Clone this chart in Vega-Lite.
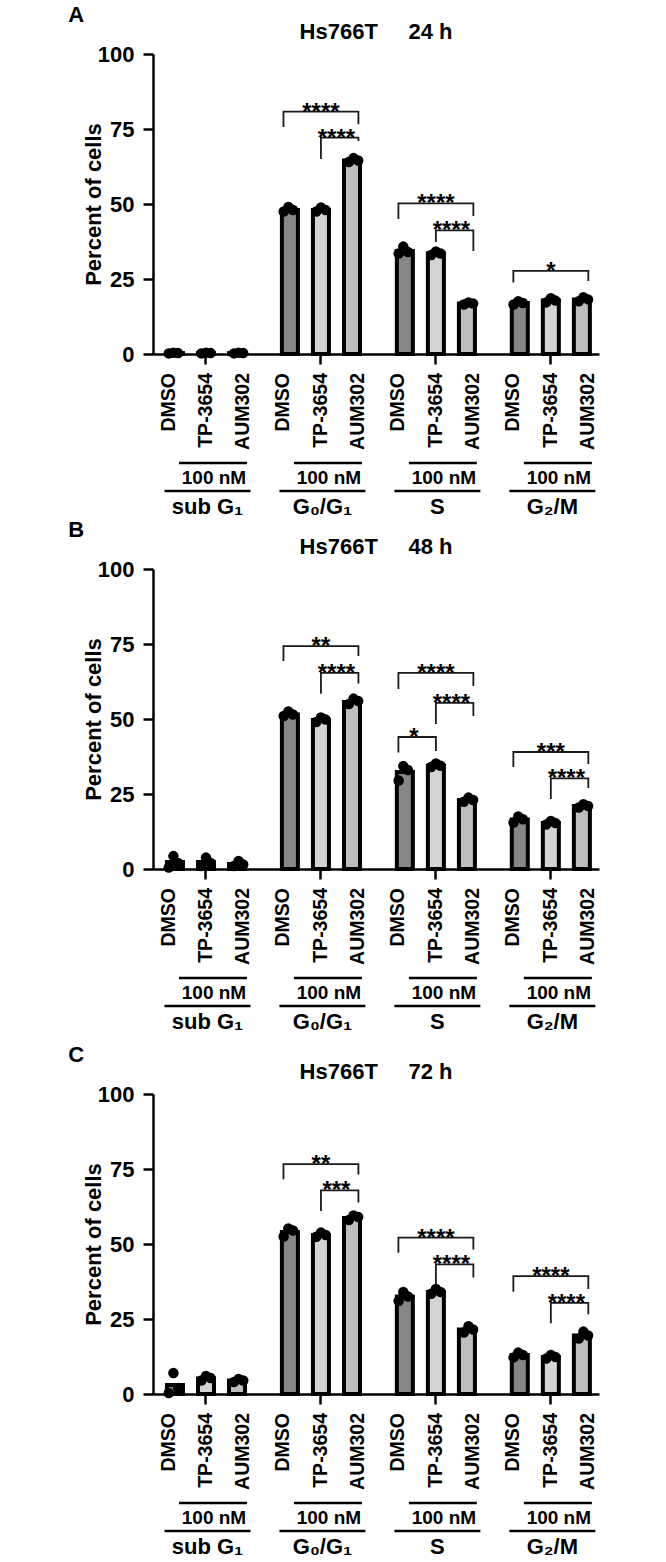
{
"$schema": "https://vega.github.io/schema/vega-lite/v6.json",
"padding": {"left": 68, "top": 4, "right": 5, "bottom": 0},
"spacing": 1,
"config": {
 "font": "Liberation Sans",
 "view": {"stroke": null},
 "axis": {"domainColor": "black", "tickColor": "black", "labelColor": "black", "titleColor": "black", "grid": false, "domainWidth": 2.5, "tickWidth": 2.5, "tickSize": 10, "labelFont": "Liberation Sans", "titleFont": "Liberation Sans"},
 "axisX": {"labels": false},
 "axisY": {"labelFontSize": 22, "labelFontWeight": "bold", "titleFontSize": 22, "titleFontWeight": "bold", "labelPadding": 9, "titlePadding": -8},
 "text": {"font": "Liberation Sans", "fontWeight": "bold", "color": "black"},
 "title": {"font": "Liberation Sans", "fontWeight": "bold", "color": "black"}
},
"datasets": {
 "phases": [
  {"phase": "sub G₁", "dose": "100 nM"},
  {"phase": "G₀/G₁", "dose": "100 nM"},
  {"phase": "S", "dose": "100 nM"},
  {"phase": "G₂/M", "dose": "100 nM"}
 ],
 "bars": [
  {"time": "24 h", "phase": "sub G₁", "treatment": "DMSO", "value": 0.3},
  {"time": "24 h", "phase": "sub G₁", "treatment": "TP-3654", "value": 0.3},
  {"time": "24 h", "phase": "sub G₁", "treatment": "AUM302", "value": 0.3},
  {"time": "24 h", "phase": "G₀/G₁", "treatment": "DMSO", "value": 48},
  {"time": "24 h", "phase": "G₀/G₁", "treatment": "TP-3654", "value": 48},
  {"time": "24 h", "phase": "G₀/G₁", "treatment": "AUM302", "value": 64.5},
  {"time": "24 h", "phase": "S", "treatment": "DMSO", "value": 34.3},
  {"time": "24 h", "phase": "S", "treatment": "TP-3654", "value": 33.6},
  {"time": "24 h", "phase": "S", "treatment": "AUM302", "value": 16.8},
  {"time": "24 h", "phase": "G₂/M", "treatment": "DMSO", "value": 17},
  {"time": "24 h", "phase": "G₂/M", "treatment": "TP-3654", "value": 17.8},
  {"time": "24 h", "phase": "G₂/M", "treatment": "AUM302", "value": 18.2},
  {"time": "48 h", "phase": "sub G₁", "treatment": "DMSO", "value": 2.3},
  {"time": "48 h", "phase": "sub G₁", "treatment": "TP-3654", "value": 2.3},
  {"time": "48 h", "phase": "sub G₁", "treatment": "AUM302", "value": 1.7},
  {"time": "48 h", "phase": "G₀/G₁", "treatment": "DMSO", "value": 51.5},
  {"time": "48 h", "phase": "G₀/G₁", "treatment": "TP-3654", "value": 49.7},
  {"time": "48 h", "phase": "G₀/G₁", "treatment": "AUM302", "value": 55.7},
  {"time": "48 h", "phase": "S", "treatment": "DMSO", "value": 32.3},
  {"time": "48 h", "phase": "S", "treatment": "TP-3654", "value": 34.4},
  {"time": "48 h", "phase": "S", "treatment": "AUM302", "value": 23},
  {"time": "48 h", "phase": "G₂/M", "treatment": "DMSO", "value": 16.5},
  {"time": "48 h", "phase": "G₂/M", "treatment": "TP-3654", "value": 15.3},
  {"time": "48 h", "phase": "G₂/M", "treatment": "AUM302", "value": 21},
  {"time": "72 h", "phase": "sub G₁", "treatment": "DMSO", "value": 3},
  {"time": "72 h", "phase": "sub G₁", "treatment": "TP-3654", "value": 5.2},
  {"time": "72 h", "phase": "sub G₁", "treatment": "AUM302", "value": 4.5},
  {"time": "72 h", "phase": "G₀/G₁", "treatment": "DMSO", "value": 54},
  {"time": "72 h", "phase": "G₀/G₁", "treatment": "TP-3654", "value": 53},
  {"time": "72 h", "phase": "G₀/G₁", "treatment": "AUM302", "value": 58.7},
  {"time": "72 h", "phase": "S", "treatment": "DMSO", "value": 32.5},
  {"time": "72 h", "phase": "S", "treatment": "TP-3654", "value": 34},
  {"time": "72 h", "phase": "S", "treatment": "AUM302", "value": 21.5},
  {"time": "72 h", "phase": "G₂/M", "treatment": "DMSO", "value": 13},
  {"time": "72 h", "phase": "G₂/M", "treatment": "TP-3654", "value": 12.3},
  {"time": "72 h", "phase": "G₂/M", "treatment": "AUM302", "value": 19.5}
 ],
 "reps": [
  {"time": "24 h", "phase": "sub G₁", "treatment": "DMSO", "rep": 1, "value": 0.2},
  {"time": "24 h", "phase": "sub G₁", "treatment": "DMSO", "rep": 3, "value": 0.3},
  {"time": "24 h", "phase": "sub G₁", "treatment": "DMSO", "rep": 2, "value": 0.4},
  {"time": "24 h", "phase": "sub G₁", "treatment": "TP-3654", "rep": 1, "value": 0.2},
  {"time": "24 h", "phase": "sub G₁", "treatment": "TP-3654", "rep": 3, "value": 0.3},
  {"time": "24 h", "phase": "sub G₁", "treatment": "TP-3654", "rep": 2, "value": 0.4},
  {"time": "24 h", "phase": "sub G₁", "treatment": "AUM302", "rep": 1, "value": 0.2},
  {"time": "24 h", "phase": "sub G₁", "treatment": "AUM302", "rep": 3, "value": 0.3},
  {"time": "24 h", "phase": "sub G₁", "treatment": "AUM302", "rep": 2, "value": 0.4},
  {"time": "24 h", "phase": "G₀/G₁", "treatment": "DMSO", "rep": 1, "value": 47.5},
  {"time": "24 h", "phase": "G₀/G₁", "treatment": "DMSO", "rep": 3, "value": 48},
  {"time": "24 h", "phase": "G₀/G₁", "treatment": "DMSO", "rep": 2, "value": 49},
  {"time": "24 h", "phase": "G₀/G₁", "treatment": "TP-3654", "rep": 1, "value": 47.5},
  {"time": "24 h", "phase": "G₀/G₁", "treatment": "TP-3654", "rep": 3, "value": 48},
  {"time": "24 h", "phase": "G₀/G₁", "treatment": "TP-3654", "rep": 2, "value": 48.8},
  {"time": "24 h", "phase": "G₀/G₁", "treatment": "AUM302", "rep": 1, "value": 64},
  {"time": "24 h", "phase": "G₀/G₁", "treatment": "AUM302", "rep": 3, "value": 64.5},
  {"time": "24 h", "phase": "G₀/G₁", "treatment": "AUM302", "rep": 2, "value": 65.3},
  {"time": "24 h", "phase": "S", "treatment": "DMSO", "rep": 1, "value": 33.5},
  {"time": "24 h", "phase": "S", "treatment": "DMSO", "rep": 3, "value": 34},
  {"time": "24 h", "phase": "S", "treatment": "DMSO", "rep": 2, "value": 35.8},
  {"time": "24 h", "phase": "S", "treatment": "TP-3654", "rep": 1, "value": 33},
  {"time": "24 h", "phase": "S", "treatment": "TP-3654", "rep": 3, "value": 33.5},
  {"time": "24 h", "phase": "S", "treatment": "TP-3654", "rep": 2, "value": 34.2},
  {"time": "24 h", "phase": "S", "treatment": "AUM302", "rep": 1, "value": 16.5},
  {"time": "24 h", "phase": "S", "treatment": "AUM302", "rep": 3, "value": 16.8},
  {"time": "24 h", "phase": "S", "treatment": "AUM302", "rep": 2, "value": 17.2},
  {"time": "24 h", "phase": "G₂/M", "treatment": "DMSO", "rep": 1, "value": 16.5},
  {"time": "24 h", "phase": "G₂/M", "treatment": "DMSO", "rep": 3, "value": 17},
  {"time": "24 h", "phase": "G₂/M", "treatment": "DMSO", "rep": 2, "value": 17.6},
  {"time": "24 h", "phase": "G₂/M", "treatment": "TP-3654", "rep": 1, "value": 17.2},
  {"time": "24 h", "phase": "G₂/M", "treatment": "TP-3654", "rep": 3, "value": 17.8},
  {"time": "24 h", "phase": "G₂/M", "treatment": "TP-3654", "rep": 2, "value": 18.6},
  {"time": "24 h", "phase": "G₂/M", "treatment": "AUM302", "rep": 1, "value": 17.6},
  {"time": "24 h", "phase": "G₂/M", "treatment": "AUM302", "rep": 3, "value": 18.2},
  {"time": "24 h", "phase": "G₂/M", "treatment": "AUM302", "rep": 2, "value": 18.9},
  {"time": "48 h", "phase": "sub G₁", "treatment": "DMSO", "rep": 1, "value": 0.5},
  {"time": "48 h", "phase": "sub G₁", "treatment": "DMSO", "rep": 3, "value": 2},
  {"time": "48 h", "phase": "sub G₁", "treatment": "DMSO", "rep": 2, "value": 4.3},
  {"time": "48 h", "phase": "sub G₁", "treatment": "TP-3654", "rep": 1, "value": 1},
  {"time": "48 h", "phase": "sub G₁", "treatment": "TP-3654", "rep": 3, "value": 2},
  {"time": "48 h", "phase": "sub G₁", "treatment": "TP-3654", "rep": 2, "value": 3.8},
  {"time": "48 h", "phase": "sub G₁", "treatment": "AUM302", "rep": 1, "value": 1},
  {"time": "48 h", "phase": "sub G₁", "treatment": "AUM302", "rep": 3, "value": 1.5},
  {"time": "48 h", "phase": "sub G₁", "treatment": "AUM302", "rep": 2, "value": 2.7},
  {"time": "48 h", "phase": "G₀/G₁", "treatment": "DMSO", "rep": 1, "value": 51},
  {"time": "48 h", "phase": "G₀/G₁", "treatment": "DMSO", "rep": 3, "value": 51.5},
  {"time": "48 h", "phase": "G₀/G₁", "treatment": "DMSO", "rep": 2, "value": 52.5},
  {"time": "48 h", "phase": "G₀/G₁", "treatment": "TP-3654", "rep": 1, "value": 49},
  {"time": "48 h", "phase": "G₀/G₁", "treatment": "TP-3654", "rep": 3, "value": 49.8},
  {"time": "48 h", "phase": "G₀/G₁", "treatment": "TP-3654", "rep": 2, "value": 50.5},
  {"time": "48 h", "phase": "G₀/G₁", "treatment": "AUM302", "rep": 1, "value": 55},
  {"time": "48 h", "phase": "G₀/G₁", "treatment": "AUM302", "rep": 3, "value": 56},
  {"time": "48 h", "phase": "G₀/G₁", "treatment": "AUM302", "rep": 2, "value": 56.8},
  {"time": "48 h", "phase": "S", "treatment": "DMSO", "rep": 1, "value": 29.5},
  {"time": "48 h", "phase": "S", "treatment": "DMSO", "rep": 3, "value": 33},
  {"time": "48 h", "phase": "S", "treatment": "DMSO", "rep": 2, "value": 34.3},
  {"time": "48 h", "phase": "S", "treatment": "TP-3654", "rep": 1, "value": 34},
  {"time": "48 h", "phase": "S", "treatment": "TP-3654", "rep": 3, "value": 34.4},
  {"time": "48 h", "phase": "S", "treatment": "TP-3654", "rep": 2, "value": 35.2},
  {"time": "48 h", "phase": "S", "treatment": "AUM302", "rep": 1, "value": 22.4},
  {"time": "48 h", "phase": "S", "treatment": "AUM302", "rep": 3, "value": 23},
  {"time": "48 h", "phase": "S", "treatment": "AUM302", "rep": 2, "value": 23.8},
  {"time": "48 h", "phase": "G₂/M", "treatment": "DMSO", "rep": 1, "value": 15.5},
  {"time": "48 h", "phase": "G₂/M", "treatment": "DMSO", "rep": 3, "value": 16.6},
  {"time": "48 h", "phase": "G₂/M", "treatment": "DMSO", "rep": 2, "value": 17.5},
  {"time": "48 h", "phase": "G₂/M", "treatment": "TP-3654", "rep": 1, "value": 14.8},
  {"time": "48 h", "phase": "G₂/M", "treatment": "TP-3654", "rep": 3, "value": 15.3},
  {"time": "48 h", "phase": "G₂/M", "treatment": "TP-3654", "rep": 2, "value": 16},
  {"time": "48 h", "phase": "G₂/M", "treatment": "AUM302", "rep": 1, "value": 20.5},
  {"time": "48 h", "phase": "G₂/M", "treatment": "AUM302", "rep": 3, "value": 21},
  {"time": "48 h", "phase": "G₂/M", "treatment": "AUM302", "rep": 2, "value": 21.6},
  {"time": "72 h", "phase": "sub G₁", "treatment": "DMSO", "rep": 1, "value": 0.3},
  {"time": "72 h", "phase": "sub G₁", "treatment": "DMSO", "rep": 3, "value": 2},
  {"time": "72 h", "phase": "sub G₁", "treatment": "DMSO", "rep": 2, "value": 7},
  {"time": "72 h", "phase": "sub G₁", "treatment": "TP-3654", "rep": 1, "value": 4.5},
  {"time": "72 h", "phase": "sub G₁", "treatment": "TP-3654", "rep": 3, "value": 5.3},
  {"time": "72 h", "phase": "sub G₁", "treatment": "TP-3654", "rep": 2, "value": 6},
  {"time": "72 h", "phase": "sub G₁", "treatment": "AUM302", "rep": 1, "value": 4},
  {"time": "72 h", "phase": "sub G₁", "treatment": "AUM302", "rep": 3, "value": 4.5},
  {"time": "72 h", "phase": "sub G₁", "treatment": "AUM302", "rep": 2, "value": 5},
  {"time": "72 h", "phase": "G₀/G₁", "treatment": "DMSO", "rep": 1, "value": 52.5},
  {"time": "72 h", "phase": "G₀/G₁", "treatment": "DMSO", "rep": 3, "value": 54.5},
  {"time": "72 h", "phase": "G₀/G₁", "treatment": "DMSO", "rep": 2, "value": 55.2},
  {"time": "72 h", "phase": "G₀/G₁", "treatment": "TP-3654", "rep": 1, "value": 52.4},
  {"time": "72 h", "phase": "G₀/G₁", "treatment": "TP-3654", "rep": 3, "value": 53},
  {"time": "72 h", "phase": "G₀/G₁", "treatment": "TP-3654", "rep": 2, "value": 53.8},
  {"time": "72 h", "phase": "G₀/G₁", "treatment": "AUM302", "rep": 1, "value": 58},
  {"time": "72 h", "phase": "G₀/G₁", "treatment": "AUM302", "rep": 3, "value": 59},
  {"time": "72 h", "phase": "G₀/G₁", "treatment": "AUM302", "rep": 2, "value": 59.5},
  {"time": "72 h", "phase": "S", "treatment": "DMSO", "rep": 1, "value": 31},
  {"time": "72 h", "phase": "S", "treatment": "DMSO", "rep": 3, "value": 32.5},
  {"time": "72 h", "phase": "S", "treatment": "DMSO", "rep": 2, "value": 34},
  {"time": "72 h", "phase": "S", "treatment": "TP-3654", "rep": 1, "value": 33.4},
  {"time": "72 h", "phase": "S", "treatment": "TP-3654", "rep": 3, "value": 34},
  {"time": "72 h", "phase": "S", "treatment": "TP-3654", "rep": 2, "value": 35},
  {"time": "72 h", "phase": "S", "treatment": "AUM302", "rep": 1, "value": 20.5},
  {"time": "72 h", "phase": "S", "treatment": "AUM302", "rep": 3, "value": 21.5},
  {"time": "72 h", "phase": "S", "treatment": "AUM302", "rep": 2, "value": 22.6},
  {"time": "72 h", "phase": "G₂/M", "treatment": "DMSO", "rep": 1, "value": 12.2},
  {"time": "72 h", "phase": "G₂/M", "treatment": "DMSO", "rep": 3, "value": 13},
  {"time": "72 h", "phase": "G₂/M", "treatment": "DMSO", "rep": 2, "value": 13.8},
  {"time": "72 h", "phase": "G₂/M", "treatment": "TP-3654", "rep": 1, "value": 11.8},
  {"time": "72 h", "phase": "G₂/M", "treatment": "TP-3654", "rep": 3, "value": 12.3},
  {"time": "72 h", "phase": "G₂/M", "treatment": "TP-3654", "rep": 2, "value": 13},
  {"time": "72 h", "phase": "G₂/M", "treatment": "AUM302", "rep": 1, "value": 18.5},
  {"time": "72 h", "phase": "G₂/M", "treatment": "AUM302", "rep": 3, "value": 19.5},
  {"time": "72 h", "phase": "G₂/M", "treatment": "AUM302", "rep": 2, "value": 20.8}
 ],
 "brackets": [
  {"time": "24 h", "id": "b1", "phase": "G₀/G₁", "treatment": "DMSO", "value": 75.7, "k": 1},
  {"time": "24 h", "id": "b1", "phase": "G₀/G₁", "treatment": "DMSO", "value": 80.8, "k": 2},
  {"time": "24 h", "id": "b1", "phase": "G₀/G₁", "treatment": "AUM302", "value": 80.8, "k": 3},
  {"time": "24 h", "id": "b1", "phase": "G₀/G₁", "treatment": "AUM302", "value": 76.6, "k": 4},
  {"time": "24 h", "id": "b2", "phase": "G₀/G₁", "treatment": "TP-3654", "value": 65, "k": 1},
  {"time": "24 h", "id": "b2", "phase": "G₀/G₁", "treatment": "TP-3654", "value": 72.1, "k": 2},
  {"time": "24 h", "id": "b2", "phase": "G₀/G₁", "treatment": "AUM302", "value": 72.1, "k": 3},
  {"time": "24 h", "id": "b2", "phase": "G₀/G₁", "treatment": "AUM302", "value": 71, "k": 4},
  {"time": "24 h", "id": "b3", "phase": "S", "treatment": "DMSO", "value": 45, "k": 1},
  {"time": "24 h", "id": "b3", "phase": "S", "treatment": "DMSO", "value": 50.2, "k": 2},
  {"time": "24 h", "id": "b3", "phase": "S", "treatment": "AUM302", "value": 50.2, "k": 3},
  {"time": "24 h", "id": "b3", "phase": "S", "treatment": "AUM302", "value": 46, "k": 4},
  {"time": "24 h", "id": "b4", "phase": "S", "treatment": "TP-3654", "value": 37.3, "k": 1},
  {"time": "24 h", "id": "b4", "phase": "S", "treatment": "TP-3654", "value": 41.2, "k": 2},
  {"time": "24 h", "id": "b4", "phase": "S", "treatment": "AUM302", "value": 41.2, "k": 3},
  {"time": "24 h", "id": "b4", "phase": "S", "treatment": "AUM302", "value": 34.3, "k": 4},
  {"time": "24 h", "id": "b5", "phase": "G₂/M", "treatment": "DMSO", "value": 23.8, "k": 1},
  {"time": "24 h", "id": "b5", "phase": "G₂/M", "treatment": "DMSO", "value": 27.7, "k": 2},
  {"time": "24 h", "id": "b5", "phase": "G₂/M", "treatment": "AUM302", "value": 27.7, "k": 3},
  {"time": "24 h", "id": "b5", "phase": "G₂/M", "treatment": "AUM302", "value": 24.3, "k": 4},
  {"time": "48 h", "id": "b6", "phase": "G₀/G₁", "treatment": "DMSO", "value": 69.3, "k": 1},
  {"time": "48 h", "id": "b6", "phase": "G₀/G₁", "treatment": "DMSO", "value": 74.3, "k": 2},
  {"time": "48 h", "id": "b6", "phase": "G₀/G₁", "treatment": "AUM302", "value": 74.3, "k": 3},
  {"time": "48 h", "id": "b6", "phase": "G₀/G₁", "treatment": "AUM302", "value": 71, "k": 4},
  {"time": "48 h", "id": "b7", "phase": "G₀/G₁", "treatment": "TP-3654", "value": 58.4, "k": 1},
  {"time": "48 h", "id": "b7", "phase": "G₀/G₁", "treatment": "TP-3654", "value": 65.4, "k": 2},
  {"time": "48 h", "id": "b7", "phase": "G₀/G₁", "treatment": "AUM302", "value": 65.4, "k": 3},
  {"time": "48 h", "id": "b7", "phase": "G₀/G₁", "treatment": "AUM302", "value": 61.8, "k": 4},
  {"time": "48 h", "id": "b8", "phase": "S", "treatment": "DMSO", "value": 60, "k": 1},
  {"time": "48 h", "id": "b8", "phase": "S", "treatment": "DMSO", "value": 65.4, "k": 2},
  {"time": "48 h", "id": "b8", "phase": "S", "treatment": "AUM302", "value": 65.4, "k": 3},
  {"time": "48 h", "id": "b8", "phase": "S", "treatment": "AUM302", "value": 61, "k": 4},
  {"time": "48 h", "id": "b9", "phase": "S", "treatment": "TP-3654", "value": 48.3, "k": 1},
  {"time": "48 h", "id": "b9", "phase": "S", "treatment": "TP-3654", "value": 55.4, "k": 2},
  {"time": "48 h", "id": "b9", "phase": "S", "treatment": "AUM302", "value": 55.4, "k": 3},
  {"time": "48 h", "id": "b9", "phase": "S", "treatment": "AUM302", "value": 51, "k": 4},
  {"time": "48 h", "id": "b10", "phase": "S", "treatment": "DMSO", "value": 38.8, "k": 1},
  {"time": "48 h", "id": "b10", "phase": "S", "treatment": "DMSO", "value": 44, "k": 2},
  {"time": "48 h", "id": "b10", "phase": "S", "treatment": "TP-3654", "value": 44, "k": 3},
  {"time": "48 h", "id": "b10", "phase": "S", "treatment": "TP-3654", "value": 39.3, "k": 4},
  {"time": "48 h", "id": "b11", "phase": "G₂/M", "treatment": "DMSO", "value": 34, "k": 1},
  {"time": "48 h", "id": "b11", "phase": "G₂/M", "treatment": "DMSO", "value": 39, "k": 2},
  {"time": "48 h", "id": "b11", "phase": "G₂/M", "treatment": "AUM302", "value": 39, "k": 3},
  {"time": "48 h", "id": "b11", "phase": "G₂/M", "treatment": "AUM302", "value": 35, "k": 4},
  {"time": "48 h", "id": "b12", "phase": "G₂/M", "treatment": "TP-3654", "value": 23.3, "k": 1},
  {"time": "48 h", "id": "b12", "phase": "G₂/M", "treatment": "TP-3654", "value": 30.2, "k": 2},
  {"time": "48 h", "id": "b12", "phase": "G₂/M", "treatment": "AUM302", "value": 30.2, "k": 3},
  {"time": "48 h", "id": "b12", "phase": "G₂/M", "treatment": "AUM302", "value": 27, "k": 4},
  {"time": "72 h", "id": "b13", "phase": "G₀/G₁", "treatment": "DMSO", "value": 71.6, "k": 1},
  {"time": "72 h", "id": "b13", "phase": "G₀/G₁", "treatment": "DMSO", "value": 76.6, "k": 2},
  {"time": "72 h", "id": "b13", "phase": "G₀/G₁", "treatment": "AUM302", "value": 76.6, "k": 3},
  {"time": "72 h", "id": "b13", "phase": "G₀/G₁", "treatment": "AUM302", "value": 73.2, "k": 4},
  {"time": "72 h", "id": "b14", "phase": "G₀/G₁", "treatment": "TP-3654", "value": 61, "k": 1},
  {"time": "72 h", "id": "b14", "phase": "G₀/G₁", "treatment": "TP-3654", "value": 67.9, "k": 2},
  {"time": "72 h", "id": "b14", "phase": "G₀/G₁", "treatment": "AUM302", "value": 67.9, "k": 3},
  {"time": "72 h", "id": "b14", "phase": "G₀/G₁", "treatment": "AUM302", "value": 63.8, "k": 4},
  {"time": "72 h", "id": "b15", "phase": "S", "treatment": "DMSO", "value": 47.1, "k": 1},
  {"time": "72 h", "id": "b15", "phase": "S", "treatment": "DMSO", "value": 52.1, "k": 2},
  {"time": "72 h", "id": "b15", "phase": "S", "treatment": "AUM302", "value": 52.1, "k": 3},
  {"time": "72 h", "id": "b15", "phase": "S", "treatment": "AUM302", "value": 48.2, "k": 4},
  {"time": "72 h", "id": "b16", "phase": "S", "treatment": "TP-3654", "value": 36.6, "k": 1},
  {"time": "72 h", "id": "b16", "phase": "S", "treatment": "TP-3654", "value": 43.2, "k": 2},
  {"time": "72 h", "id": "b16", "phase": "S", "treatment": "AUM302", "value": 43.2, "k": 3},
  {"time": "72 h", "id": "b16", "phase": "S", "treatment": "AUM302", "value": 38.8, "k": 4},
  {"time": "72 h", "id": "b17", "phase": "G₂/M", "treatment": "DMSO", "value": 34.1, "k": 1},
  {"time": "72 h", "id": "b17", "phase": "G₂/M", "treatment": "DMSO", "value": 39.3, "k": 2},
  {"time": "72 h", "id": "b17", "phase": "G₂/M", "treatment": "AUM302", "value": 39.3, "k": 3},
  {"time": "72 h", "id": "b17", "phase": "G₂/M", "treatment": "AUM302", "value": 35, "k": 4},
  {"time": "72 h", "id": "b18", "phase": "G₂/M", "treatment": "TP-3654", "value": 23.6, "k": 1},
  {"time": "72 h", "id": "b18", "phase": "G₂/M", "treatment": "TP-3654", "value": 30.4, "k": 2},
  {"time": "72 h", "id": "b18", "phase": "G₂/M", "treatment": "AUM302", "value": 30.4, "k": 3},
  {"time": "72 h", "id": "b18", "phase": "G₂/M", "treatment": "AUM302", "value": 26.6, "k": 4}
 ],
 "stars": [
  {"time": "24 h", "phase": "G₀/G₁", "treatment": "TP-3654", "span": 2, "value": 80.8, "stars": "****"},
  {"time": "24 h", "phase": "G₀/G₁", "treatment": "TP-3654", "span": 1, "value": 72.1, "stars": "****"},
  {"time": "24 h", "phase": "S", "treatment": "TP-3654", "span": 2, "value": 50.2, "stars": "****"},
  {"time": "24 h", "phase": "S", "treatment": "TP-3654", "span": 1, "value": 41.2, "stars": "****"},
  {"time": "24 h", "phase": "G₂/M", "treatment": "TP-3654", "span": 2, "value": 27.7, "stars": "*"},
  {"time": "48 h", "phase": "G₀/G₁", "treatment": "TP-3654", "span": 2, "value": 74.3, "stars": "**"},
  {"time": "48 h", "phase": "G₀/G₁", "treatment": "TP-3654", "span": 1, "value": 65.4, "stars": "****"},
  {"time": "48 h", "phase": "S", "treatment": "TP-3654", "span": 2, "value": 65.4, "stars": "****"},
  {"time": "48 h", "phase": "S", "treatment": "TP-3654", "span": 1, "value": 55.4, "stars": "****"},
  {"time": "48 h", "phase": "S", "treatment": "DMSO", "span": 1, "value": 44, "stars": "*"},
  {"time": "48 h", "phase": "G₂/M", "treatment": "TP-3654", "span": 2, "value": 39, "stars": "***"},
  {"time": "48 h", "phase": "G₂/M", "treatment": "TP-3654", "span": 1, "value": 30.2, "stars": "****"},
  {"time": "72 h", "phase": "G₀/G₁", "treatment": "TP-3654", "span": 2, "value": 76.6, "stars": "**"},
  {"time": "72 h", "phase": "G₀/G₁", "treatment": "TP-3654", "span": 1, "value": 67.9, "stars": "***"},
  {"time": "72 h", "phase": "S", "treatment": "TP-3654", "span": 2, "value": 52.1, "stars": "****"},
  {"time": "72 h", "phase": "S", "treatment": "TP-3654", "span": 1, "value": 43.2, "stars": "****"},
  {"time": "72 h", "phase": "G₂/M", "treatment": "TP-3654", "span": 2, "value": 39.3, "stars": "****"},
  {"time": "72 h", "phase": "G₂/M", "treatment": "TP-3654", "span": 1, "value": 30.4, "stars": "****"}
 ]
},
"vconcat": [
 {
  "title": {"text": "A", "anchor": "start", "frame": "bounds", "fontSize": 22, "dx": -14, "offset": -23, "baseline": "alphabetic"},
  "vconcat": [{
   "title": {"text": "Hs766T\u00a0\u00a0\u00a0\u00a0\u00a024 h", "anchor": "middle", "frame": "group", "fontSize": 22, "offset": -18, "baseline": "alphabetic"},
   "width": 446, "height": 300,
   "resolve": {"scale": {"xOffset": "independent"}},
   "layer": [
    {"data": {"name": "bars"}, "transform": [{"filter": "datum.time == '24 h'"}],
     "mark": {"type": "bar", "stroke": "black", "strokeWidth": 4},
     "encoding": {
      "x": {"field": "phase", "type": "nominal", "title": null, "sort": ["sub G₁", "G₀/G₁", "S", "G₂/M"], "scale": {"domain": ["sub G₁", "G₀/G₁", "S", "G₂/M"], "paddingInner": 0.19, "paddingOuter": 0.035, "align": 0.8}},
      "xOffset": {"field": "treatment", "type": "nominal", "scale": {"domain": ["DMSO", "TP-3654", "AUM302"], "paddingInner": 0.484, "paddingOuter": 0.242}},
      "y": {"field": "value", "type": "quantitative", "title": "Percent of cells", "scale": {"domain": [0, 100]}, "axis": {"values": [0, 25, 50, 75, 100]}},
      "fill": {"field": "treatment", "type": "nominal", "scale": {"domain": ["DMSO", "TP-3654", "AUM302"], "range": ["#878787", "#d4d4d4", "#bebebe"]}, "legend": null}
     }},
    {"data": {"name": "reps"}, "transform": [{"filter": "datum.time == '24 h'"}, {"calculate": "datum.treatment + ' ' + datum.rep", "as": "slot"}],
     "mark": {"type": "point", "filled": true, "fill": "black", "size": 110, "opacity": 1},
     "encoding": {"x": {"field": "phase", "type": "nominal", "title": null}, "xOffset": {"field": "slot", "type": "nominal", "scale": {"domain": ["DMSO a", "DMSO b", "DMSO 1", "DMSO 2", "DMSO 3", "DMSO c", "DMSO d", "TP-3654 a", "TP-3654 b", "TP-3654 1", "TP-3654 2", "TP-3654 3", "TP-3654 c", "TP-3654 d", "AUM302 a", "AUM302 b", "AUM302 1", "AUM302 2", "AUM302 3", "AUM302 c", "AUM302 d"], "paddingInner": 0, "paddingOuter": 0}}, "y": {"field": "value", "type": "quantitative", "title": "Percent of cells"}}},
    {"data": {"name": "brackets"}, "transform": [{"filter": "datum.time == '24 h'"}],
     "mark": {"type": "line", "stroke": "#1a1a1a", "strokeWidth": 1.8},
     "encoding": {"x": {"field": "phase", "type": "nominal", "title": null}, "xOffset": {"field": "treatment", "type": "nominal", "scale": {"domain": ["DMSO", "TP-3654", "AUM302"], "paddingInner": 0.484, "paddingOuter": 0.242}}, "y": {"field": "value", "type": "quantitative", "title": "Percent of cells"}, "detail": {"field": "id", "type": "nominal"}, "order": {"field": "k", "type": "quantitative"}}},
    {"data": {"name": "stars"}, "transform": [{"filter": "datum.time == '24 h' && datum.span == 2"}],
     "mark": {"type": "text", "fontSize": 24, "baseline": "alphabetic", "dy": 8},
     "encoding": {"x": {"field": "phase", "type": "nominal", "title": null}, "xOffset": {"field": "treatment", "type": "nominal", "scale": {"domain": ["DMSO", "TP-3654", "AUM302"], "paddingInner": 0.484, "paddingOuter": 0.242}}, "y": {"field": "value", "type": "quantitative", "title": "Percent of cells"}, "text": {"field": "stars"}}},
    {"data": {"name": "stars"}, "transform": [{"filter": "datum.time == '24 h' && datum.span == 1"}],
     "mark": {"type": "text", "fontSize": 24, "baseline": "alphabetic", "dy": 8, "dx": 15.5},
     "encoding": {"x": {"field": "phase", "type": "nominal", "title": null}, "xOffset": {"field": "treatment", "type": "nominal", "scale": {"domain": ["DMSO", "TP-3654", "AUM302"], "paddingInner": 0.484, "paddingOuter": 0.242}}, "y": {"field": "value", "type": "quantitative", "title": "Percent of cells"}, "text": {"field": "stars"}}},
    {"data": {"name": "bars"}, "transform": [{"filter": "datum.time == '24 h'"}],
     "mark": {"type": "text", "angle": 270, "align": "right", "baseline": "middle", "fontSize": 19.5},
     "encoding": {"x": {"field": "phase", "type": "nominal", "title": null}, "xOffset": {"field": "treatment", "type": "nominal", "scale": {"domain": ["DMSO", "TP-3654", "AUM302"], "paddingInner": 0.484, "paddingOuter": 0.242}}, "y": {"datum": -6.33, "type": "quantitative", "title": "Percent of cells"}, "text": {"field": "treatment"}}},
    {"data": {"name": "phases"},
     "mark": {"type": "tick", "orient": "horizontal", "size": 68, "thickness": 2.5, "xOffset": 7, "color": "black", "opacity": 1},
     "encoding": {"x": {"field": "phase", "type": "nominal", "title": null}, "y": {"datum": -36.3, "type": "quantitative", "title": "Percent of cells"}}},
    {"data": {"name": "phases"},
     "mark": {"type": "text", "fontSize": 19, "baseline": "alphabetic", "dx": 8},
     "encoding": {"x": {"field": "phase", "type": "nominal", "title": null}, "y": {"datum": -43.3, "type": "quantitative", "title": "Percent of cells"}, "text": {"field": "dose"}}},
    {"data": {"name": "phases"},
     "mark": {"type": "tick", "orient": "horizontal", "size": 86, "thickness": 2.5, "xOffset": 1.5, "color": "black", "opacity": 1},
     "encoding": {"x": {"field": "phase", "type": "nominal", "title": null}, "y": {"datum": -45.7, "type": "quantitative", "title": "Percent of cells"}}},
    {"data": {"name": "phases"},
     "mark": {"type": "text", "fontSize": 22, "baseline": "alphabetic", "dx": 1.5},
     "encoding": {"x": {"field": "phase", "type": "nominal", "title": null}, "y": {"datum": -53.3, "type": "quantitative", "title": "Percent of cells"}, "text": {"field": "phase"}}}
   ]
  }]
 },
 {
  "spacing": 11,
  "vconcat": [
 {
  "title": {"text": "B", "anchor": "start", "frame": "bounds", "fontSize": 22, "dx": -14, "offset": -23, "baseline": "alphabetic"},
  "vconcat": [{
   "title": {"text": "Hs766T\u00a0\u00a0\u00a0\u00a0\u00a048 h", "anchor": "middle", "frame": "group", "fontSize": 22, "offset": -18, "baseline": "alphabetic"},
   "width": 446, "height": 300,
   "resolve": {"scale": {"xOffset": "independent"}},
   "layer": [
    {"data": {"name": "bars"}, "transform": [{"filter": "datum.time == '48 h'"}],
     "mark": {"type": "bar", "stroke": "black", "strokeWidth": 4},
     "encoding": {
      "x": {"field": "phase", "type": "nominal", "title": null, "sort": ["sub G₁", "G₀/G₁", "S", "G₂/M"], "scale": {"domain": ["sub G₁", "G₀/G₁", "S", "G₂/M"], "paddingInner": 0.19, "paddingOuter": 0.035, "align": 0.8}},
      "xOffset": {"field": "treatment", "type": "nominal", "scale": {"domain": ["DMSO", "TP-3654", "AUM302"], "paddingInner": 0.484, "paddingOuter": 0.242}},
      "y": {"field": "value", "type": "quantitative", "title": "Percent of cells", "scale": {"domain": [0, 100]}, "axis": {"values": [0, 25, 50, 75, 100]}},
      "fill": {"field": "treatment", "type": "nominal", "scale": {"domain": ["DMSO", "TP-3654", "AUM302"], "range": ["#878787", "#d4d4d4", "#bebebe"]}, "legend": null}
     }},
    {"data": {"name": "reps"}, "transform": [{"filter": "datum.time == '48 h'"}, {"calculate": "datum.treatment + ' ' + datum.rep", "as": "slot"}],
     "mark": {"type": "point", "filled": true, "fill": "black", "size": 110, "opacity": 1},
     "encoding": {"x": {"field": "phase", "type": "nominal", "title": null}, "xOffset": {"field": "slot", "type": "nominal", "scale": {"domain": ["DMSO a", "DMSO b", "DMSO 1", "DMSO 2", "DMSO 3", "DMSO c", "DMSO d", "TP-3654 a", "TP-3654 b", "TP-3654 1", "TP-3654 2", "TP-3654 3", "TP-3654 c", "TP-3654 d", "AUM302 a", "AUM302 b", "AUM302 1", "AUM302 2", "AUM302 3", "AUM302 c", "AUM302 d"], "paddingInner": 0, "paddingOuter": 0}}, "y": {"field": "value", "type": "quantitative", "title": "Percent of cells"}}},
    {"data": {"name": "brackets"}, "transform": [{"filter": "datum.time == '48 h'"}],
     "mark": {"type": "line", "stroke": "#1a1a1a", "strokeWidth": 1.8},
     "encoding": {"x": {"field": "phase", "type": "nominal", "title": null}, "xOffset": {"field": "treatment", "type": "nominal", "scale": {"domain": ["DMSO", "TP-3654", "AUM302"], "paddingInner": 0.484, "paddingOuter": 0.242}}, "y": {"field": "value", "type": "quantitative", "title": "Percent of cells"}, "detail": {"field": "id", "type": "nominal"}, "order": {"field": "k", "type": "quantitative"}}},
    {"data": {"name": "stars"}, "transform": [{"filter": "datum.time == '48 h' && datum.span == 2"}],
     "mark": {"type": "text", "fontSize": 24, "baseline": "alphabetic", "dy": 8},
     "encoding": {"x": {"field": "phase", "type": "nominal", "title": null}, "xOffset": {"field": "treatment", "type": "nominal", "scale": {"domain": ["DMSO", "TP-3654", "AUM302"], "paddingInner": 0.484, "paddingOuter": 0.242}}, "y": {"field": "value", "type": "quantitative", "title": "Percent of cells"}, "text": {"field": "stars"}}},
    {"data": {"name": "stars"}, "transform": [{"filter": "datum.time == '48 h' && datum.span == 1"}],
     "mark": {"type": "text", "fontSize": 24, "baseline": "alphabetic", "dy": 8, "dx": 15.5},
     "encoding": {"x": {"field": "phase", "type": "nominal", "title": null}, "xOffset": {"field": "treatment", "type": "nominal", "scale": {"domain": ["DMSO", "TP-3654", "AUM302"], "paddingInner": 0.484, "paddingOuter": 0.242}}, "y": {"field": "value", "type": "quantitative", "title": "Percent of cells"}, "text": {"field": "stars"}}},
    {"data": {"name": "bars"}, "transform": [{"filter": "datum.time == '48 h'"}],
     "mark": {"type": "text", "angle": 270, "align": "right", "baseline": "middle", "fontSize": 19.5},
     "encoding": {"x": {"field": "phase", "type": "nominal", "title": null}, "xOffset": {"field": "treatment", "type": "nominal", "scale": {"domain": ["DMSO", "TP-3654", "AUM302"], "paddingInner": 0.484, "paddingOuter": 0.242}}, "y": {"datum": -6.33, "type": "quantitative", "title": "Percent of cells"}, "text": {"field": "treatment"}}},
    {"data": {"name": "phases"},
     "mark": {"type": "tick", "orient": "horizontal", "size": 68, "thickness": 2.5, "xOffset": 7, "color": "black", "opacity": 1},
     "encoding": {"x": {"field": "phase", "type": "nominal", "title": null}, "y": {"datum": -36.3, "type": "quantitative", "title": "Percent of cells"}}},
    {"data": {"name": "phases"},
     "mark": {"type": "text", "fontSize": 19, "baseline": "alphabetic", "dx": 8},
     "encoding": {"x": {"field": "phase", "type": "nominal", "title": null}, "y": {"datum": -43.3, "type": "quantitative", "title": "Percent of cells"}, "text": {"field": "dose"}}},
    {"data": {"name": "phases"},
     "mark": {"type": "tick", "orient": "horizontal", "size": 86, "thickness": 2.5, "xOffset": 1.5, "color": "black", "opacity": 1},
     "encoding": {"x": {"field": "phase", "type": "nominal", "title": null}, "y": {"datum": -45.7, "type": "quantitative", "title": "Percent of cells"}}},
    {"data": {"name": "phases"},
     "mark": {"type": "text", "fontSize": 22, "baseline": "alphabetic", "dx": 1.5},
     "encoding": {"x": {"field": "phase", "type": "nominal", "title": null}, "y": {"datum": -53.3, "type": "quantitative", "title": "Percent of cells"}, "text": {"field": "phase"}}}
   ]
  }]
 },
 {
  "title": {"text": "C", "anchor": "start", "frame": "bounds", "fontSize": 22, "dx": -14, "offset": -23, "baseline": "alphabetic"},
  "vconcat": [{
   "title": {"text": "Hs766T\u00a0\u00a0\u00a0\u00a0\u00a072 h", "anchor": "middle", "frame": "group", "fontSize": 22, "offset": -18, "baseline": "alphabetic"},
   "width": 446, "height": 300,
   "resolve": {"scale": {"xOffset": "independent"}},
   "layer": [
    {"data": {"name": "bars"}, "transform": [{"filter": "datum.time == '72 h'"}],
     "mark": {"type": "bar", "stroke": "black", "strokeWidth": 4},
     "encoding": {
      "x": {"field": "phase", "type": "nominal", "title": null, "sort": ["sub G₁", "G₀/G₁", "S", "G₂/M"], "scale": {"domain": ["sub G₁", "G₀/G₁", "S", "G₂/M"], "paddingInner": 0.19, "paddingOuter": 0.035, "align": 0.8}},
      "xOffset": {"field": "treatment", "type": "nominal", "scale": {"domain": ["DMSO", "TP-3654", "AUM302"], "paddingInner": 0.484, "paddingOuter": 0.242}},
      "y": {"field": "value", "type": "quantitative", "title": "Percent of cells", "scale": {"domain": [0, 100]}, "axis": {"values": [0, 25, 50, 75, 100]}},
      "fill": {"field": "treatment", "type": "nominal", "scale": {"domain": ["DMSO", "TP-3654", "AUM302"], "range": ["#878787", "#d4d4d4", "#bebebe"]}, "legend": null}
     }},
    {"data": {"name": "reps"}, "transform": [{"filter": "datum.time == '72 h'"}, {"calculate": "datum.treatment + ' ' + datum.rep", "as": "slot"}],
     "mark": {"type": "point", "filled": true, "fill": "black", "size": 110, "opacity": 1},
     "encoding": {"x": {"field": "phase", "type": "nominal", "title": null}, "xOffset": {"field": "slot", "type": "nominal", "scale": {"domain": ["DMSO a", "DMSO b", "DMSO 1", "DMSO 2", "DMSO 3", "DMSO c", "DMSO d", "TP-3654 a", "TP-3654 b", "TP-3654 1", "TP-3654 2", "TP-3654 3", "TP-3654 c", "TP-3654 d", "AUM302 a", "AUM302 b", "AUM302 1", "AUM302 2", "AUM302 3", "AUM302 c", "AUM302 d"], "paddingInner": 0, "paddingOuter": 0}}, "y": {"field": "value", "type": "quantitative", "title": "Percent of cells"}}},
    {"data": {"name": "brackets"}, "transform": [{"filter": "datum.time == '72 h'"}],
     "mark": {"type": "line", "stroke": "#1a1a1a", "strokeWidth": 1.8},
     "encoding": {"x": {"field": "phase", "type": "nominal", "title": null}, "xOffset": {"field": "treatment", "type": "nominal", "scale": {"domain": ["DMSO", "TP-3654", "AUM302"], "paddingInner": 0.484, "paddingOuter": 0.242}}, "y": {"field": "value", "type": "quantitative", "title": "Percent of cells"}, "detail": {"field": "id", "type": "nominal"}, "order": {"field": "k", "type": "quantitative"}}},
    {"data": {"name": "stars"}, "transform": [{"filter": "datum.time == '72 h' && datum.span == 2"}],
     "mark": {"type": "text", "fontSize": 24, "baseline": "alphabetic", "dy": 8},
     "encoding": {"x": {"field": "phase", "type": "nominal", "title": null}, "xOffset": {"field": "treatment", "type": "nominal", "scale": {"domain": ["DMSO", "TP-3654", "AUM302"], "paddingInner": 0.484, "paddingOuter": 0.242}}, "y": {"field": "value", "type": "quantitative", "title": "Percent of cells"}, "text": {"field": "stars"}}},
    {"data": {"name": "stars"}, "transform": [{"filter": "datum.time == '72 h' && datum.span == 1"}],
     "mark": {"type": "text", "fontSize": 24, "baseline": "alphabetic", "dy": 8, "dx": 15.5},
     "encoding": {"x": {"field": "phase", "type": "nominal", "title": null}, "xOffset": {"field": "treatment", "type": "nominal", "scale": {"domain": ["DMSO", "TP-3654", "AUM302"], "paddingInner": 0.484, "paddingOuter": 0.242}}, "y": {"field": "value", "type": "quantitative", "title": "Percent of cells"}, "text": {"field": "stars"}}},
    {"data": {"name": "bars"}, "transform": [{"filter": "datum.time == '72 h'"}],
     "mark": {"type": "text", "angle": 270, "align": "right", "baseline": "middle", "fontSize": 19.5},
     "encoding": {"x": {"field": "phase", "type": "nominal", "title": null}, "xOffset": {"field": "treatment", "type": "nominal", "scale": {"domain": ["DMSO", "TP-3654", "AUM302"], "paddingInner": 0.484, "paddingOuter": 0.242}}, "y": {"datum": -6.33, "type": "quantitative", "title": "Percent of cells"}, "text": {"field": "treatment"}}},
    {"data": {"name": "phases"},
     "mark": {"type": "tick", "orient": "horizontal", "size": 68, "thickness": 2.5, "xOffset": 7, "color": "black", "opacity": 1},
     "encoding": {"x": {"field": "phase", "type": "nominal", "title": null}, "y": {"datum": -36.3, "type": "quantitative", "title": "Percent of cells"}}},
    {"data": {"name": "phases"},
     "mark": {"type": "text", "fontSize": 19, "baseline": "alphabetic", "dx": 8},
     "encoding": {"x": {"field": "phase", "type": "nominal", "title": null}, "y": {"datum": -43.3, "type": "quantitative", "title": "Percent of cells"}, "text": {"field": "dose"}}},
    {"data": {"name": "phases"},
     "mark": {"type": "tick", "orient": "horizontal", "size": 86, "thickness": 2.5, "xOffset": 1.5, "color": "black", "opacity": 1},
     "encoding": {"x": {"field": "phase", "type": "nominal", "title": null}, "y": {"datum": -45.7, "type": "quantitative", "title": "Percent of cells"}}},
    {"data": {"name": "phases"},
     "mark": {"type": "text", "fontSize": 22, "baseline": "alphabetic", "dx": 1.5},
     "encoding": {"x": {"field": "phase", "type": "nominal", "title": null}, "y": {"datum": -53.3, "type": "quantitative", "title": "Percent of cells"}, "text": {"field": "phase"}}}
   ]
  }]
 }
  ]
 }
]
}
